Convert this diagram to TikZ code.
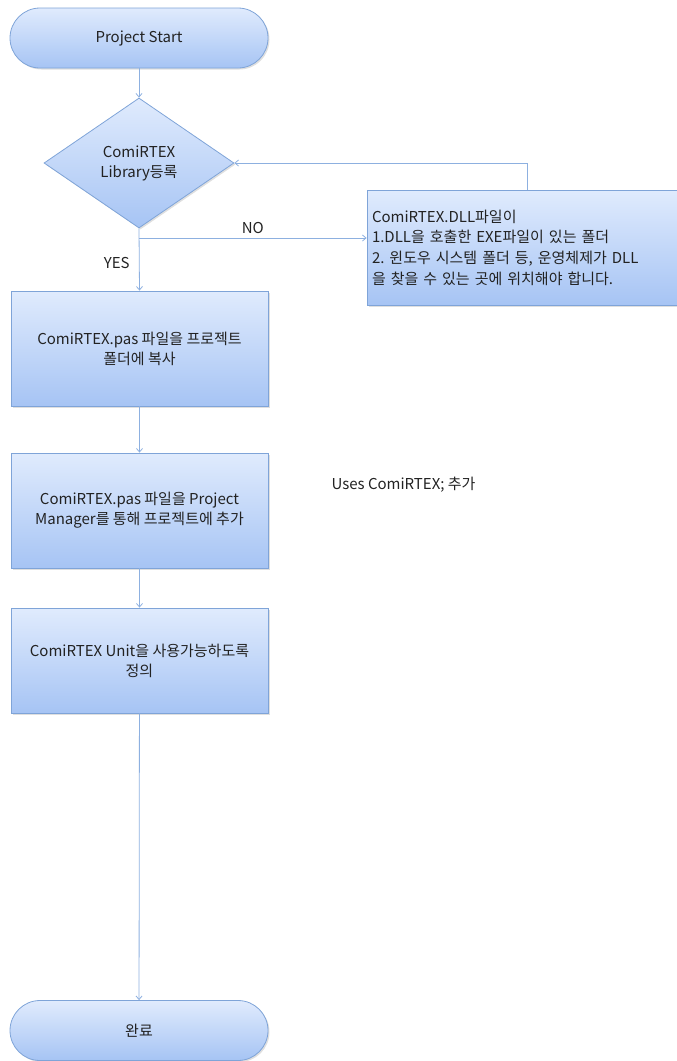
\documentclass[tikz,border=0pt]{standalone}
\usepackage{fontspec}
\setmainfont{Noto Sans CJK KR}
\frenchspacing
\usetikzlibrary{shapes.geometric,arrows.meta,shadows}
\definecolor{edgeblue}{HTML}{7FA4D8}
\definecolor{topblue}{HTML}{E0EBFD}
\definecolor{botblue}{HTML}{A6C4F4}
\definecolor{lineblue}{HTML}{8DB0E0}
\definecolor{txt}{HTML}{222222}
\tikzset{
  blk/.style={draw=edgeblue, line width=0.8pt, top color=topblue, bottom color=botblue,
    drop shadow={shadow xshift=1.5pt, shadow yshift=-1.5pt, opacity=0.25},
    font=\fontsize{15}{20}\selectfont, text=txt, align=center},
  term/.style={blk, rounded corners=30pt, minimum width=258pt, minimum height=60pt},
  procbox/.style={blk, rectangle, minimum width=257pt, inner sep=0pt},
  decis/.style={blk, diamond, minimum width=190pt, minimum height=130pt, inner sep=0pt, aspect=1.46},
  conn/.style={draw=lineblue, line width=0.8pt, -{Straight Barb[length=3.5pt,width=6pt]}},
  lbl/.style={font=\fontsize{15}{20}\selectfont, text=txt}
}
\begin{document}
\begin{tikzpicture}[x=1pt,y=-1pt]
\useasboundingbox (0,0) rectangle (677,1061);
\node[term] (start) at (139,38) {Project Start};
\node[decis] (lib) at (139,163) {ComiRTEX\\Library등록};
\node[blk, rectangle, minimum width=310pt, minimum height=115pt, inner sep=0pt, align=left, text width=300pt, font=\fontsize{15}{20.7}\selectfont] (dll) at (522,247.5)
  {ComiRTEX.DLL파일이\\1.DLL을 호출한 EXE파일이 있는 폴더\\2. 윈도우 시스템 폴더 등, 운영체제가 DLL\\을 찾을 수 있는 곳에 위치해야 합니다.};
\node[procbox, minimum height=115pt] (copy) at (139.5,348.5) {ComiRTEX.pas 파일을 프로젝트\\폴더에 복사};
\node[procbox, minimum height=115pt] (add) at (139.5,510.5) {ComiRTEX.pas 파일을 Project\\Manager를 통해 프로젝트에 추가};
\node[procbox, minimum height=105pt] (unit) at (139.5,660.5) {ComiRTEX Unit을 사용가능하도록\\정의};
\node[term] (done) at (139,1030.5) {완료};
\node[lbl, anchor=west] (uses) at (328,485) {Uses ComiRTEX; 추가};
\coordinate (split) at (139,238);
\coordinate (corner) at (527,163);
\draw[conn] (start) -- (lib);
\draw[conn] (lib.south) -- (copy.north) node[lbl, pos=0.55, left=6pt] (yes) {YES};
\draw[conn] (split) -- (dll.west |- split) node[lbl, pos=0.5, above=1pt] (no) {NO};
\draw[conn] (dll.north -| corner) -- (corner) -- (lib.east);
\draw[conn] (copy) -- (add);
\draw[conn] (add) -- (unit);
\draw[conn] (unit) -- (done);
\end{tikzpicture}
\end{document}
